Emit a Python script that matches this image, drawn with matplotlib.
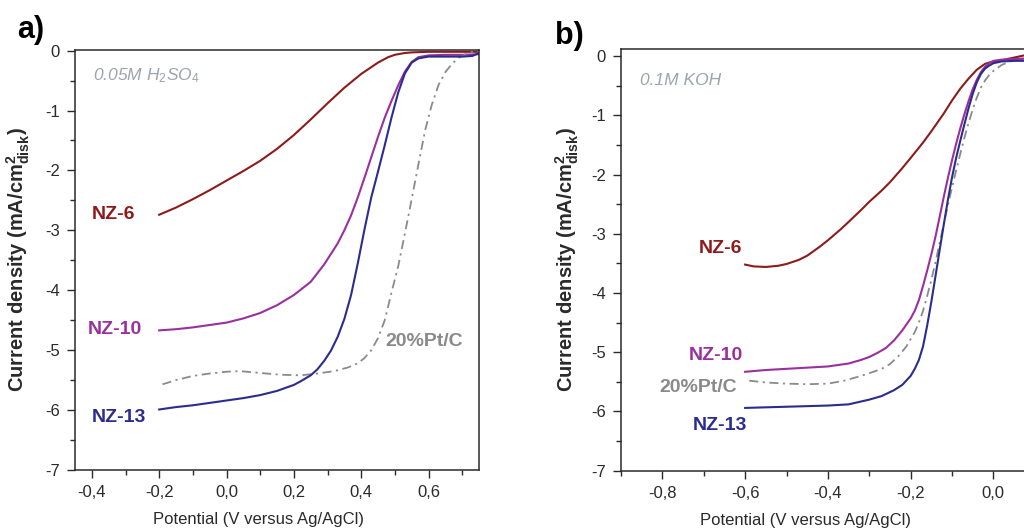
import matplotlib
matplotlib.use("Agg")
import matplotlib.pyplot as plt
from matplotlib.ticker import MultipleLocator, FuncFormatter

plt.rcParams["font.family"] = ["Liberation Sans", "DejaVu Sans"]
plt.rcParams["axes.unicode_minus"] = False
plt.rcParams["mathtext.fontset"] = "custom"
plt.rcParams["mathtext.rm"] = "Liberation Sans"
plt.rcParams["mathtext.it"] = "Liberation Sans:italic"
plt.rcParams["mathtext.bf"] = "Liberation Sans:bold"

# ---------------- (a) 0.05 M H2SO4 ----------------
a_nz6_x = [-0.20, -0.15, -0.10, -0.05, 0.00, 0.05, 0.10, 0.15, 0.20, 0.25, 0.30,
           0.35, 0.40, 0.45, 0.48, 0.50, 0.53, 0.55, 0.60, 0.75]
a_nz6_y = [-2.74, -2.62, -2.48, -2.33, -2.17, -2.01, -1.84, -1.64, -1.41, -1.15, -0.88,
           -0.62, -0.39, -0.20, -0.11, -0.07, -0.04, -0.03, -0.02, -0.02]

a_nz10_x = [-0.20, -0.15, -0.10, -0.05, 0.00, 0.05, 0.10, 0.15, 0.20, 0.25, 0.29, 0.33,
            0.35, 0.37, 0.39, 0.41, 0.43, 0.45, 0.47, 0.49, 0.51, 0.53, 0.55, 0.57,
            0.60, 0.65, 0.70, 0.75]
a_nz10_y = [-4.67, -4.65, -4.62, -4.58, -4.54, -4.47, -4.38, -4.25, -4.08, -3.86, -3.57, -3.22,
            -3.00, -2.75, -2.45, -2.12, -1.78, -1.44, -1.12, -0.84, -0.58, -0.35, -0.19, -0.11,
            -0.08, -0.07, -0.07, -0.06]

a_nz13_x = [-0.20, -0.15, -0.10, -0.05, 0.00, 0.05, 0.10, 0.15, 0.20, 0.22, 0.25, 0.27,
            0.29, 0.31, 0.33, 0.35, 0.37, 0.39, 0.41, 0.43, 0.45, 0.47, 0.49, 0.51,
            0.53, 0.55, 0.57, 0.60, 0.65, 0.70, 0.73, 0.75]
a_nz13_y = [-5.99, -5.95, -5.92, -5.88, -5.84, -5.80, -5.75, -5.68, -5.58, -5.52, -5.42, -5.32,
            -5.18, -5.01, -4.78, -4.48, -4.08, -3.55, -2.98, -2.45, -2.02, -1.58, -1.12, -0.70,
            -0.38, -0.20, -0.13, -0.10, -0.10, -0.10, -0.09, -0.04]

a_pt_x = [-0.19, -0.15, -0.10, -0.05, 0.00, 0.04, 0.08, 0.12, 0.16, 0.22, 0.27, 0.32,
          0.36, 0.39, 0.41, 0.43, 0.45, 0.47, 0.49, 0.51, 0.53, 0.55, 0.57, 0.59,
          0.61, 0.63, 0.65, 0.67, 0.69, 0.71, 0.73, 0.75]
a_pt_y = [-5.57, -5.50, -5.43, -5.39, -5.36, -5.35, -5.37, -5.39, -5.41, -5.42, -5.39, -5.35,
          -5.29, -5.22, -5.13, -5.00, -4.80, -4.50, -4.04, -3.60, -3.05, -2.48, -1.90, -1.33,
          -0.90, -0.57, -0.36, -0.22, -0.12, -0.06, -0.02, -0.01]

# ---------------- (b) 0.1 M KOH ----------------
b_nz6_x = [-0.60, -0.58, -0.55, -0.52, -0.50, -0.47, -0.45, -0.42, -0.40, -0.37, -0.35,
           -0.32, -0.30, -0.27, -0.25, -0.22, -0.20, -0.17, -0.15, -0.12, -0.10, -0.08,
           -0.06, -0.04, -0.02, 0.00, 0.02, 0.04, 0.06, 0.08, 0.10]
b_nz6_y = [-3.52, -3.55, -3.56, -3.54, -3.51, -3.44, -3.37, -3.22, -3.11, -2.93, -2.80,
           -2.60, -2.46, -2.27, -2.13, -1.89, -1.72, -1.46, -1.27, -0.97, -0.75, -0.55,
           -0.38, -0.23, -0.13, -0.09, -0.07, -0.04, -0.01, 0.02, 0.04]

b_nz10_x = [-0.60, -0.55, -0.50, -0.45, -0.40, -0.35, -0.32, -0.30, -0.28, -0.26, -0.24,
            -0.22, -0.20, -0.19, -0.18, -0.17, -0.16, -0.15, -0.14, -0.13, -0.12, -0.11,
            -0.10, -0.09, -0.08, -0.07, -0.06, -0.05, -0.04, -0.03, -0.02, -0.01, 0.00,
            0.02, 0.05, 0.10]
b_nz10_y = [-5.33, -5.30, -5.28, -5.26, -5.24, -5.19, -5.13, -5.08, -5.01, -4.93, -4.80,
            -4.63, -4.43, -4.30, -4.12, -3.88, -3.62, -3.35, -3.05, -2.72, -2.38, -2.06,
            -1.76, -1.48, -1.22, -0.98, -0.76, -0.56, -0.40, -0.27, -0.18, -0.12, -0.08,
            -0.06, -0.05, -0.03]

b_nz13_x = [-0.60, -0.55, -0.50, -0.45, -0.40, -0.35, -0.30, -0.27, -0.24, -0.22, -0.20,
            -0.19, -0.18, -0.17, -0.16, -0.15, -0.14, -0.13, -0.12, -0.11, -0.10, -0.09,
            -0.08, -0.07, -0.06, -0.05, -0.04, -0.03, -0.02, -0.01, 0.00, 0.02, 0.05, 0.10]
b_nz13_y = [-5.94, -5.93, -5.92, -5.91, -5.90, -5.88, -5.80, -5.74, -5.64, -5.55, -5.40,
            -5.28, -5.13, -4.90, -4.55, -4.15, -3.72, -3.28, -2.85, -2.43, -2.05, -1.72,
            -1.43, -1.15, -0.88, -0.64, -0.44, -0.30, -0.21, -0.16, -0.12, -0.09, -0.08, -0.08]

b_pt_x = [-0.59, -0.55, -0.50, -0.45, -0.40, -0.36, -0.32, -0.29, -0.27, -0.25, -0.23,
          -0.21, -0.19, -0.18, -0.17, -0.16, -0.15, -0.14, -0.13, -0.12, -0.11, -0.10,
          -0.09, -0.08, -0.07, -0.06, -0.05, -0.04, -0.03, -0.02, -0.01, 0.00, 0.02,
          0.04, 0.07, 0.10]
b_pt_y = [-5.48, -5.51, -5.53, -5.54, -5.53, -5.48, -5.40, -5.33, -5.28, -5.20, -5.07,
          -4.90, -4.66, -4.50, -4.30, -4.05, -3.78, -3.48, -3.16, -2.84, -2.52, -2.22,
          -1.93, -1.65, -1.38, -1.13, -0.90, -0.70, -0.53, -0.41, -0.32, -0.25, -0.15,
          -0.09, -0.05, -0.03]

C_NZ6 = "#8e1b1b"
C_NZ10 = "#9a2f9e"
C_NZ13 = "#2c2c8e"
C_PT = "#8a8a8a"
C_NOTE = "#9ca4ae"
C_AX = "#2a2a2a"

W, H = 1024, 530
fig = plt.figure(figsize=(W / 100, H / 100), dpi=100)
fig.patch.set_facecolor("white")

axa = fig.add_axes([75 / W, 60 / H, 404 / W, 420 / H])
axb = fig.add_axes([621 / W, 59.3 / H, 413.75 / W, 421.7 / H])


def xfmt(v, pos):
    if abs(v) < 1e-9:
        v = 0.0
    return f"{v:.1f}".replace(".", ",")


def yfmt(v, pos):
    if abs(v) < 1e-9:
        v = 0.0
    return f"{v:.0f}"


dash_dot = (0, (5, 2.5, 1.2, 2.5))
ylabel = r"Current density (mA/cm$^{\mathbf{2}}_{\mathbf{disk}}$)"

for ax, xlim, ylim in ((axa, (-0.45, 0.75), (-7, 0.01)),
                       (axb, (-0.9, 0.1), (-7, 0.12))):
    ax.set_xlim(*xlim)
    ax.set_ylim(*ylim)
    ax.xaxis.set_major_locator(MultipleLocator(0.2))
    ax.xaxis.set_minor_locator(MultipleLocator(0.1))
    ax.yaxis.set_major_locator(MultipleLocator(1))
    ax.yaxis.set_minor_locator(MultipleLocator(0.5))
    ax.xaxis.set_major_formatter(FuncFormatter(xfmt))
    ax.yaxis.set_major_formatter(FuncFormatter(yfmt))
    ax.tick_params(which="both", direction="out", colors=C_AX, labelsize=12,
                   top=False, right=False, width=1.0)
    ax.tick_params(which="major", length=6, pad=5)
    ax.tick_params(which="minor", length=3.5)
    for s in ax.spines.values():
        s.set_color(C_AX)
        s.set_linewidth(1.1)
    ax.set_xlabel("Potential (V versus Ag/AgCl)", fontsize=12, color=C_AX,
                  va="center")
    ax.set_ylabel(ylabel, fontsize=14.5, fontweight="bold", color=C_AX,
                  va="center", ha="center")

axa.xaxis.set_label_coords(0.453, -0.119)
axa.yaxis.set_label_coords(-0.141, 0.5)
axb.xaxis.set_label_coords(0.447, -0.118)
axb.yaxis.set_label_coords(-0.13, 0.5)

lw = 1.5
axa.plot(a_nz6_x, a_nz6_y, color=C_NZ6, lw=lw)
axa.plot(a_nz10_x, a_nz10_y, color=C_NZ10, lw=lw)
axa.plot(a_pt_x, a_pt_y, color=C_PT, lw=1.3, linestyle=dash_dot)
axa.plot(a_nz13_x, a_nz13_y, color=C_NZ13, lw=lw)

axb.plot(b_nz6_x, b_nz6_y, color=C_NZ6, lw=lw)
axb.plot(b_pt_x, b_pt_y, color=C_PT, lw=1.3, linestyle=dash_dot)
axb.plot(b_nz10_x, b_nz10_y, color=C_NZ10, lw=lw)
axb.plot(b_nz13_x, b_nz13_y, color=C_NZ13, lw=lw)

lab = dict(fontsize=14, fontweight="bold", va="center")
axa.text(-0.397, -0.42, r"0.05M H$_{\mathit{2}}$SO$_{\mathit{4}}$", color=C_NOTE,
         fontsize=12.5, style="italic", ha="left", va="center")
axa.text(-0.272, -2.74, "NZ-6", color=C_NZ6, ha="right", **lab)
axa.text(-0.252, -4.66, "NZ-10", color=C_NZ10, ha="right", **lab)
axa.text(-0.240, -6.12, "NZ-13", color=C_NZ13, ha="right", **lab)
axa.text(0.473, -4.86, "20%Pt/C", color=C_PT, ha="left", **lab)

axb.text(-0.853, -0.42, "0.1M KOH", color=C_NOTE, fontsize=12.5, style="italic",
         ha="left", va="center")
axb.text(-0.607, -3.25, "NZ-6", color=C_NZ6, ha="right", **lab)
axb.text(-0.604, -5.05, "NZ-10", color=C_NZ10, ha="right", **lab)
axb.text(-0.619, -5.59, "20%Pt/C", color=C_PT, ha="right", **lab)
axb.text(-0.595, -6.24, "NZ-13", color=C_NZ13, ha="right", **lab)

fig.text(17 / W, 1 - 30 / H, "a)", fontsize=22, fontweight="bold", ha="left", va="center")
fig.text(555 / W, 1 - 36 / H, "b)", fontsize=22, fontweight="bold", ha="left", va="center")

fig.savefig("out.png", dpi=100)
